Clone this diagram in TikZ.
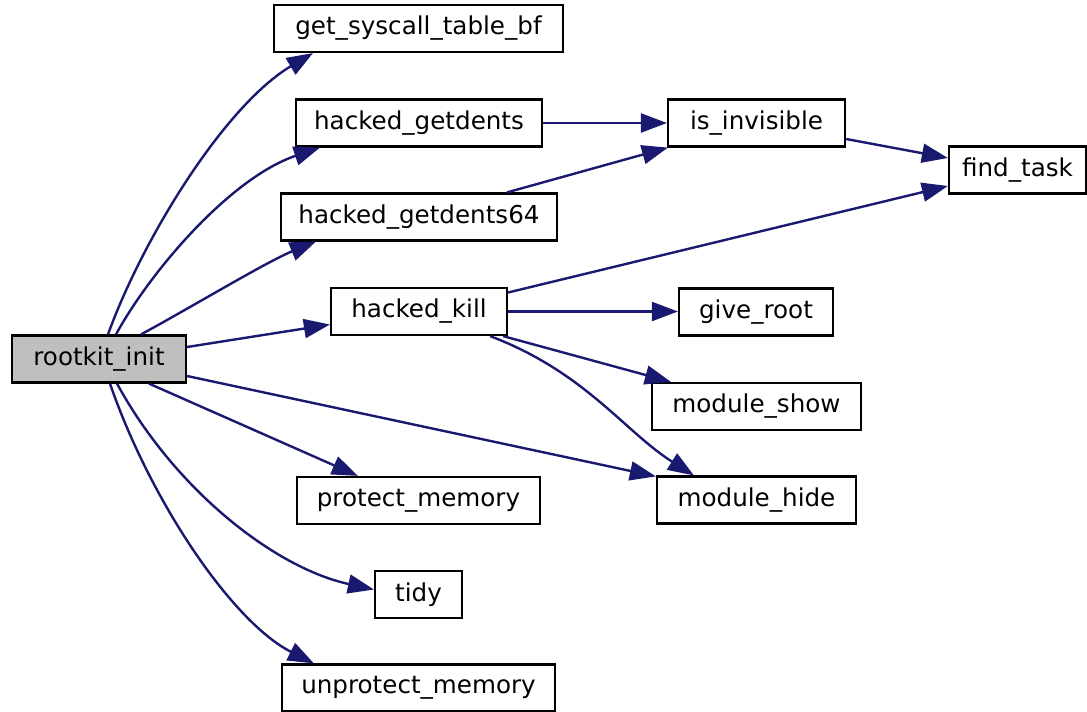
\documentclass[tikz,border=0pt]{standalone}
\usepackage{fontspec}
\setmainfont{DejaVu Sans}
\usetikzlibrary{arrows.meta,calc}
\definecolor{edgeblue}{RGB}{25,25,112}
\definecolor{rootgray}{RGB}{191,191,191}
\begin{document}
\begin{tikzpicture}[x=1pt,y=-1pt,
  fnode/.style={draw=black, line width=2.2pt, minimum height=47pt, inner sep=0pt,
    fill=white, font=\fontsize{24.6}{29}\selectfont},
  rootnode/.style={fnode, fill=rootgray},
  edge/.style={draw=edgeblue, line width=2.4pt,
    -{Triangle[length=26pt,width=19pt]}}]
\useasboundingbox (0,0) rectangle (1087,712);
% nodes
\node[rootnode, minimum width=174pt] (ri) at (99,359) {rootkit\_init};
\node[fnode, minimum width=289pt] (gs) at (418.5,28.5) {get\_syscall\_table\_bf};
\node[fnode, minimum width=246pt] (hg) at (419,123) {hacked\_getdents};
\node[fnode, minimum width=276pt] (hgs) at (419,217) {hacked\_getdents64};
\node[fnode, minimum width=176pt] (hk) at (419,311.5) {hacked\_kill};
\node[fnode, minimum width=243pt] (pm) at (418.5,500.5) {protect\_memory};
\node[fnode, minimum width=87pt] (td) at (418.5,594.5) {tidy};
\node[fnode, minimum width=273pt] (um) at (418.5,688) {unprotect\_memory};
\node[fnode, minimum width=177pt] (ii) at (756.5,123) {is\_invisible};
\node[fnode, minimum width=137pt] (ft) at (1017.5,170) {find\_task};
\node[fnode, minimum width=154pt] (gr) at (756,312) {give\_root};
\node[fnode, minimum width=209pt] (ms) at (756.5,406.5) {module\_show};
\node[fnode, minimum width=199pt] (mh) at (756.5,500) {module\_hide};
% edges from rootkit_init
\draw[edge] ($(ri.north)+(9,0)$) .. controls (142,240) and (224,106) .. ($(gs.south west)+(40,0)$);
\draw[edge] ($(ri.north)+(17,0)$) .. controls (150,272) and (230,178) .. ($(hg.south west)+(25,0)$);
\draw[edge] ($(ri.north)+(42,0)$) .. controls (190,308) and (266,262) .. ($(hgs.south west)+(36,0)$);
\draw[edge] ($(ri.east)+(0,-12)$) -- ($(hk.west)+(0,13)$);
\draw[edge] ($(ri.east)+(0,17)$) -- ($(mh.north west)+(0,1)$);
\draw[edge] ($(ri.south)+(50,0)$) -- ($(pm.north west)+(62,0)$);
\draw[edge] ($(ri.south)+(18,0)$) .. controls (175,490) and (275,568) .. ($(td.west)+(0,-5)$);
\draw[edge] ($(ri.south)+(11,0)$) .. controls (150,500) and (232,622) .. ($(um.north west)+(33,0)$);
% other edges
\draw[edge] (hg.east) -- (hg.east -| ii.west);
\draw[edge] ($(hgs.north)+(88,0)$) -- ($(ii.south west)+(1,0)$);
\draw[edge] ($(ii.east)+(0,16)$) -- ($(ft.west)+(0,-12)$);
\draw[edge] ($(hk.east)+(0,-19)$) -- ($(ft.west)+(0,16)$);
\draw[edge] (hk.east) -- (hk.east -| gr.west);
\draw[edge] ($(hk.south east)+(-5,0)$) -- ($(ms.north west)+(20,0)$);
\draw[edge] ($(hk.south east)+(-18,0)$) .. controls (585,372) and (625,432) .. ($(mh.north west)+(38,0)$);
\end{tikzpicture}
\end{document}
